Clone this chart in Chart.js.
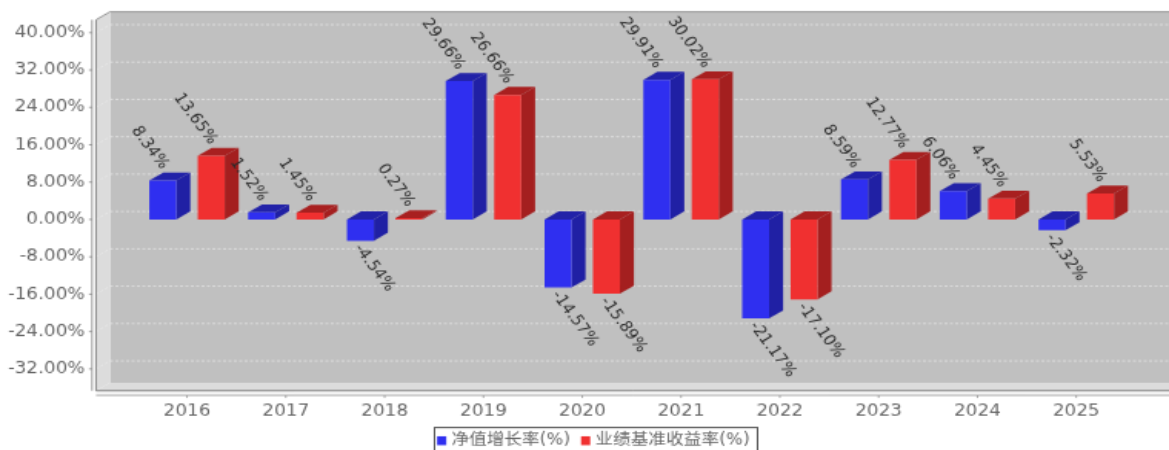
<!DOCTYPE html>
<html>
<head>
<meta charset="utf-8">
<script src="https://cdn.jsdelivr.net/npm/chart.js@4"></script>
<style>
  html, body { margin: 0; padding: 0; background: #fff; overflow: hidden; }
</style>
</head>
<body>
<canvas id="chart" width="760" height="328" style="display:block;width:1169px;height:450px"></canvas>
<script>
const years = ['2016', '2017', '2018', '2019', '2020', '2021', '2022', '2023', '2024', '2025'];
const navGrowth = [8.34, 1.52, -4.54, 29.66, -14.57, 29.91, -21.17, 8.59, 6.06, -2.32];
const benchmark = [13.65, 1.45, 0.27, 26.66, -15.89, 30.02, -17.10, 12.77, 4.45, 5.53];
const yTicks = [-32, -24, -16, -8, 0, 8, 16, 24, 32, 40];

// the picture is a small image stretched to 1169x450, so draw small and let css stretch it
const SX = 1169 / 760;
const SY = 450 / 328;
const DEPTH_X = 14 / SX;
const DEPTH_Y = 8 / SY;

const FONT = '"DejaVu Sans", "Noto Sans CJK SC", sans-serif';

function poly(ctx, pts, fill) {
  ctx.beginPath();
  pts.forEach((p, i) => i ? ctx.lineTo(p[0], p[1]) : ctx.moveTo(p[0], p[1]));
  ctx.closePath();
  ctx.fillStyle = fill;
  ctx.fill();
}

function line(ctx, x1, y1, x2, y2, color) {
  ctx.beginPath();
  ctx.moveTo(x1, y1);
  ctx.lineTo(x2, y2);
  ctx.strokeStyle = color;
  ctx.stroke();
}

// walls, grid and axis lines of the 3d box
const wallsPlugin = {
  id: 'walls',
  afterLayout(chart) {
    chart.legend.left += 7;
    chart.legend.right += 7;
  },
  beforeDraw(chart) {
    const { ctx, chartArea: a, scales } = chart;
    const w = chart.width;
    const backLeft = a.left + DEPTH_X;
    const backTop = a.top - DEPTH_Y;
    const backBottom = a.bottom - DEPTH_Y;

    ctx.save();
    ctx.lineWidth = 0.8;
    poly(ctx, [[backLeft, backTop], [w, backTop], [w, backBottom], [backLeft, backBottom]], '#c0c0c0');
    poly(ctx, [[a.left, a.top], [backLeft, backTop], [backLeft, backBottom], [a.left, a.bottom]], '#dcdcdc');
    poly(ctx, [[a.left, a.bottom], [backLeft, backBottom], [w, backBottom], [w, a.bottom]], '#dcdcdc');

    ctx.setLineDash([2, 1.5]);
    yTicks.forEach(v => {
      const y = scales.y.getPixelForValue(v);
      line(ctx, a.left, y, backLeft, y - DEPTH_Y, '#eaeaea');
      line(ctx, backLeft, y - DEPTH_Y, w, y - DEPTH_Y, '#e4e4e4');
    });
    ctx.setLineDash([]);

    line(ctx, a.left, a.top, backLeft, backTop, '#808080');
    line(ctx, backLeft, backTop, w, backTop, '#909090');
    line(ctx, a.left, a.top, a.left, a.bottom, '#707070');
    line(ctx, a.left, a.bottom, w, a.bottom, '#606060');

    // axis lines sit a little outside the box
    const axisX = a.left - 4 / SX;
    const axisY = a.bottom + 4.5 / SY;
    line(ctx, axisX, a.top, axisX, a.bottom, '#808080');
    line(ctx, a.left, axisY, w, axisY, '#909090');
    yTicks.forEach(v => {
      const y = scales.y.getPixelForValue(v);
      line(ctx, axisX - 2, y, axisX, y, '#808080');
    });
    years.forEach((c, i) => {
      const x = scales.x.getPixelForValue(i);
      line(ctx, x, axisY, x, axisY + 2, '#909090');
    });

    // legend frame, the bottom edge falls off the picture
    ctx.lineWidth = 1;
    ctx.strokeStyle = '#505050';
    ctx.strokeRect(434.5 / SX, 427.5 / SY, 323 / SX, 40 / SY);
    ctx.restore();
  },
  beforeDatasetsDraw(chart) {
    const { ctx } = chart;
    const shades = [
      { top: '#2222a8', side: '#2020a4' },
      { top: '#a82020', side: '#a41f1f' }
    ];
    ctx.save();
    chart.data.datasets.forEach((ds, d) => {
      chart.getDatasetMeta(d).data.forEach(bar => {
        const l = bar.x - bar.width / 2;
        const r = bar.x + bar.width / 2;
        const hi = Math.min(bar.y, bar.base);
        const lo = Math.max(bar.y, bar.base);
        poly(ctx, [[r, hi], [r + DEPTH_X, hi - DEPTH_Y], [r + DEPTH_X, lo - DEPTH_Y], [r, lo]], shades[d].side);
        poly(ctx, [[l, hi], [l + DEPTH_X, hi - DEPTH_Y], [r + DEPTH_X, hi - DEPTH_Y], [r, hi]], shades[d].top);
      });
    });
    ctx.restore();
  },
  // rotated value labels
  afterDatasetsDraw(chart) {
    const { ctx } = chart;
    ctx.save();
    ctx.font = '11px ' + FONT;
    ctx.fillStyle = '#2a2a2a';
    ctx.textBaseline = 'middle';
    chart.data.datasets.forEach((ds, d) => {
      chart.getDatasetMeta(d).data.forEach((bar, i) => {
        const v = ds.data[i].y;
        ctx.save();
        if (v >= 0) {
          ctx.translate(bar.x + 2 / SX, bar.y - 13 / SY);
          ctx.textAlign = 'right';
        } else {
          ctx.translate(bar.x - 3 / SX, bar.y + 5 / SY);
          ctx.textAlign = 'left';
        }
        ctx.rotate(56 * Math.PI / 180);
        ctx.fillText(pct(v), 0, 0);
        ctx.restore();
      });
    });
    ctx.restore();
  }
};

function pct(v) {
  return v.toFixed(2) + '%';
}

function series(values) {
  return values.map((v, i) => ({ x: i, y: v }));
}

new Chart(document.getElementById('chart'), {
  type: 'bar',
  data: {
    datasets: [
      { label: '净值增长率(%)', data: series(navGrowth), backgroundColor: '#2f2ff0' },
      { label: '业绩基准收益率(%)', data: series(benchmark), backgroundColor: '#f03030' }
    ]
  },
  options: {
    responsive: false,
    maintainAspectRatio: false,
    devicePixelRatio: 1,
    animation: false,
    categoryPercentage: 0.98,
    barPercentage: 0.557,
    layout: { padding: { top: 19 / SY, bottom: -8.95, left: 0, right: 0 } },
    scales: {
      x: {
        type: 'linear',
        offset: false,
        min: -0.921,
        max: 9.939,
        grid: { display: false, offset: false, drawTicks: false },
        border: { display: false },
        afterBuildTicks(scale) {
          scale.ticks = years.map((c, i) => ({ value: i }));
        },
        afterFit(scale) {
          scale.height = 21.2;
        },
        ticks: {
          autoSkip: false,
          maxRotation: 0,
          padding: 7.8,
          color: '#666666',
          font: { family: FONT, size: 12 },
          callback: v => years[v]
        }
      },
      y: {
        min: -36.68,
        max: 42.76,
        grid: { display: false, drawTicks: false },
        border: { display: false },
        afterBuildTicks(scale) {
          scale.ticks = yTicks.map(v => ({ value: v }));
        },
        afterFit(scale) {
          scale.width = 96 / SX;
        },
        ticks: {
          padding: 7.2,
          color: '#666666',
          font: { family: FONT, size: 12 },
          callback: v => pct(v)
        }
      }
    },
    plugins: {
      tooltip: { enabled: false },
      legend: {
        position: 'bottom',
        labels: {
          // small box with a thick same colour stroke keeps the text close to the square
          boxWidth: 1,
          boxHeight: 1.5,
          padding: 9.45,
          color: '#666666',
          font: { family: FONT, size: 11.5 },
          generateLabels(chart) {
            return Chart.defaults.plugins.legend.labels.generateLabels(chart).map(item => ({
              ...item,
              strokeStyle: item.fillStyle,
              lineWidth: 5
            }));
          }
        }
      }
    }
  },
  plugins: [wallsPlugin]
});
</script>
</body>
</html>
